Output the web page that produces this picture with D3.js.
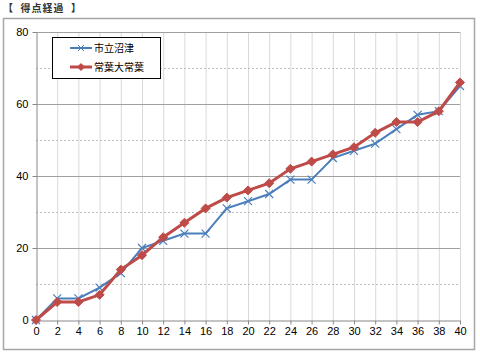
<!DOCTYPE html>
<html><head><meta charset="utf-8">
<script src="https://cdn.jsdelivr.net/npm/d3@7"></script>
<style>body{margin:0;background:#fff;}svg{display:block;font-family:"Noto Sans CJK JP","DejaVu Sans",sans-serif;}</style>
</head><body><svg id="c" width="480" height="354"></svg>
<script>
const xValues = [0,2,4,6,8,10,12,14,16,18,20,22,24,26,28,30,32,34,36,38,40];
const seriesNames = ["市立沼津","常葉大常葉"];
const numazu = [0,6,6,9,13,20,22,24,24,31,33,35,39,39,45,47,49,53,57,58,65];
const tokoha = [0,5,5,7,14,18,23,27,31,34,36,38,42,44,46,48,52,55,55,58,66];
const yTicks = [0,20,40,60,80];
const yMinor = [10,30,50,70];
const title = "【  得点経過  】";

const svg = d3.select("#c");
const L=36,R=460,T=32,B=320;
const x = d3.scaleLinear().domain([0,40]).range([L,R]);
const y = d3.scaleLinear().domain([0,80]).range([B,T]);

svg.append("rect").attr("x",3.5).attr("y",18.5).attr("width",471).attr("height",331)
  .attr("fill","#fff").attr("stroke","#a6a6a6").attr("stroke-width",1.5);
svg.append("text").attr("x",3).attr("y",12).attr("font-size",10).attr("font-weight","bold")
  .attr("letter-spacing",1).attr("xml:space","preserve").style("white-space","pre").attr("fill","#333").text(title);

// vertical grid
svg.append("g").selectAll("line").data(xValues.slice(1)).join("line")
  .attr("x1",d=>x(d)+0.5).attr("x2",d=>x(d)+0.5).attr("y1",T).attr("y2",B)
  .attr("stroke","#d9d9d9").attr("stroke-width",1);
// minor horizontal
svg.append("g").selectAll("line").data(yMinor).join("line")
  .attr("x1",L).attr("x2",R).attr("y1",d=>y(d)+0.5).attr("y2",d=>y(d)+0.5)
  .attr("stroke","#bfbfbf").attr("stroke-dasharray","2,2");
// major horizontal
svg.append("g").selectAll("line").data(yTicks.slice(1)).join("line")
  .attr("x1",L).attr("x2",R).attr("y1",d=>y(d)+0.5).attr("y2",d=>y(d)+0.5)
  .attr("stroke","#a0a0a0").attr("stroke-width",1);

const xAxis = svg.append("g").attr("transform",`translate(0,${B+0.5})`)
  .call(d3.axisBottom(x).tickValues(xValues).tickSize(4).tickSizeOuter(0).tickPadding(3));
const yAxis = svg.append("g").attr("transform",`translate(${L+0.5},0)`)
  .call(d3.axisLeft(y).tickValues(yTicks).tickSize(4).tickSizeOuter(0).tickPadding(4));
[xAxis,yAxis].forEach(a=>{
  a.selectAll("path,line").attr("stroke","#888");
  a.selectAll("text").attr("font-size",11).attr("fill","#000").attr("font-family","'Liberation Sans',Arial,sans-serif");
});

const line = d3.line().x((d,i)=>x(xValues[i])).y(d=>y(d));
const blue="#4a7ebb", red="#be4b48";
svg.append("path").datum(numazu).attr("d",line).attr("fill","none").attr("stroke",blue).attr("stroke-width",2);
svg.append("g").selectAll("path").data(numazu).join("path")
  .attr("d",(d,i)=>{const cx=x(xValues[i]),cy=y(d),s=4;return `M${cx-s},${cy-s}L${cx+s},${cy+s}M${cx-s},${cy+s}L${cx+s},${cy-s}`;})
  .attr("stroke",blue).attr("stroke-width",1.2);
svg.append("path").datum(tokoha).attr("d",line).attr("fill","none").attr("stroke",red).attr("stroke-width",3);
svg.append("g").selectAll("path").data(tokoha).join("path")
  .attr("d",(d,i)=>{const cx=x(xValues[i]),cy=y(d),s=4.5;return `M${cx},${cy-s}L${cx+s},${cy}L${cx},${cy+s}L${cx-s},${cy}Z`;})
  .attr("fill",red).attr("stroke",red);

// legend
const lg = svg.append("g");
lg.append("rect").attr("x",52.5).attr("y",37.5).attr("width",108).attr("height",41).attr("fill","#fff").attr("stroke","#000").attr("stroke-width",1);
const ly=[48,67];
[blue,red].forEach((c,k)=>{
  lg.append("line").attr("x1",70).attr("x2",92).attr("y1",ly[k]).attr("y2",ly[k]).attr("stroke",c).attr("stroke-width",k?3:2);
  if(k===0){lg.append("path").attr("d",`M78,${ly[k]-3}L84,${ly[k]+3}M78,${ly[k]+3}L84,${ly[k]-3}`).attr("stroke",c);}
  else{lg.append("path").attr("d",`M81,${ly[k]-4}L85,${ly[k]}L81,${ly[k]+4}L77,${ly[k]}Z`).attr("fill",c);}
  lg.append("text").attr("x",94).attr("y",ly[k]+4).attr("font-size",10).attr("fill","#000").text(seriesNames[k]);
});
</script></body></html>
